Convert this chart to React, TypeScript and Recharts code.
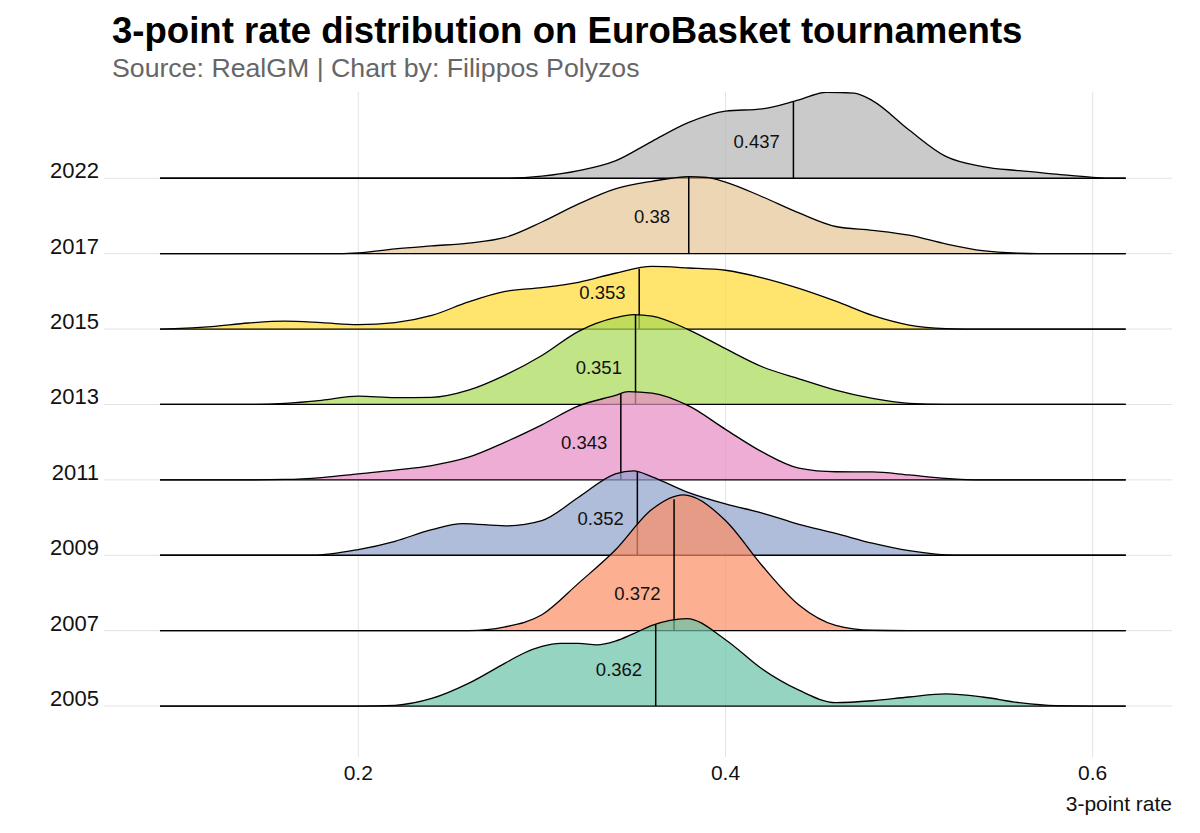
import { ComposedChart, Area, Line, Scatter, XAxis, YAxis, CartesianGrid } from "recharts";

const FONT = "'Liberation Sans', Arial, sans-serif";

const years = ["2005", "2007", "2009", "2011", "2013", "2015", "2017", "2022"];
const colors = ["#66C2A5", "#FC8D62", "#8DA0CB", "#E78AC3", "#A6D854", "#FFD92F", "#E5C494", "#B3B3B3"];
const medians = [0.362, 0.372, 0.352, 0.343, 0.351, 0.353, 0.38, 0.437];
const xTicks = [0.2, 0.4, 0.6];
const yTicks = years.map((_, i) => i);

// [3-point rate, density height in ridge spacings]
const dens2005: [number, number][] = [
  [0.092, 0], [0.2, 0], [0.22, 0.01], [0.24, 0.1], [0.26, 0.3], [0.28, 0.57], [0.29, 0.7], [0.3, 0.79],
  [0.31, 0.83], [0.32, 0.83], [0.33, 0.81], [0.34, 0.86], [0.35, 0.96], [0.36, 1.07], [0.379, 1.16],
  [0.4, 0.88], [0.42, 0.49], [0.44, 0.21], [0.46, 0.045], [0.48, 0.07], [0.5, 0.12], [0.52, 0.16],
  [0.54, 0.12], [0.56, 0.045], [0.58, 0.005], [0.6, 0], [0.618, 0],
];
const dens2007: [number, number][] = [
  [0.092, 0], [0.26, 0], [0.28, 0.05], [0.3, 0.21], [0.32, 0.63], [0.34, 1.07], [0.36, 1.61], [0.377, 1.8],
  [0.38, 1.79], [0.4, 1.46], [0.42, 0.86], [0.44, 0.34], [0.46, 0.07], [0.48, 0.005], [0.5, 0], [0.618, 0],
];
const dens2009: [number, number][] = [
  [0.092, 0], [0.175, 0], [0.2, 0.075], [0.22, 0.185], [0.24, 0.34], [0.257, 0.42], [0.28, 0.39], [0.3, 0.46],
  [0.32, 0.77], [0.34, 1.08], [0.35, 1.12], [0.36, 1.04], [0.38, 0.83], [0.4, 0.68], [0.42, 0.56], [0.44, 0.41],
  [0.46, 0.29], [0.48, 0.16], [0.5, 0.06], [0.52, 0.005], [0.53, 0], [0.618, 0],
];
const dens2011: [number, number][] = [
  [0.092, 0], [0.14, 0], [0.16, 0.005], [0.18, 0.03], [0.2, 0.08], [0.22, 0.13], [0.24, 0.19], [0.26, 0.3],
  [0.28, 0.5], [0.3, 0.73], [0.32, 0.98], [0.34, 1.12], [0.347, 1.17], [0.36, 1.15], [0.38, 0.98], [0.4, 0.67],
  [0.42, 0.37], [0.44, 0.155], [0.46, 0.107], [0.48, 0.105], [0.5, 0.065], [0.52, 0.02], [0.54, 0], [0.618, 0],
];
const dens2013: [number, number][] = [
  [0.092, 0], [0.14, 0], [0.16, 0.015], [0.18, 0.055], [0.2, 0.11], [0.22, 0.09], [0.24, 0.095], [0.26, 0.19],
  [0.28, 0.39], [0.3, 0.65], [0.32, 0.97], [0.34, 1.15], [0.35, 1.19], [0.36, 1.17], [0.38, 0.99], [0.4, 0.74],
  [0.42, 0.5], [0.44, 0.34], [0.46, 0.19], [0.48, 0.08], [0.5, 0.015], [0.52, 0], [0.618, 0],
];
const dens2015: [number, number][] = [
  [0.092, 0], [0.1, 0.005], [0.12, 0.033], [0.14, 0.08], [0.16, 0.105], [0.18, 0.085], [0.2, 0.058], [0.22, 0.085],
  [0.24, 0.18], [0.26, 0.36], [0.28, 0.5], [0.3, 0.55], [0.32, 0.62], [0.34, 0.74], [0.36, 0.83], [0.38, 0.81],
  [0.4, 0.78], [0.42, 0.68], [0.44, 0.54], [0.46, 0.37], [0.48, 0.18], [0.5, 0.053], [0.52, 0.005], [0.53, 0], [0.618, 0],
];
const dens2017: [number, number][] = [
  [0.092, 0], [0.19, 0], [0.2, 0.01], [0.22, 0.063], [0.24, 0.103], [0.26, 0.14], [0.28, 0.215], [0.3, 0.42],
  [0.32, 0.66], [0.34, 0.86], [0.36, 0.96], [0.38, 1.02], [0.39, 1.01], [0.4, 0.95], [0.42, 0.755], [0.44, 0.54],
  [0.46, 0.36], [0.48, 0.31], [0.5, 0.245], [0.52, 0.13], [0.54, 0.04], [0.56, 0.005], [0.57, 0], [0.618, 0],
];
const dens2022: [number, number][] = [
  [0.092, 0], [0.28, 0], [0.3, 0.027], [0.32, 0.1], [0.34, 0.23], [0.36, 0.49], [0.38, 0.74], [0.4, 0.89],
  [0.42, 0.92], [0.44, 1.04], [0.455, 1.14], [0.47, 1.13], [0.48, 1.03], [0.5, 0.64], [0.52, 0.29], [0.54, 0.155],
  [0.56, 0.1], [0.58, 0.055], [0.6, 0.012], [0.61, 0], [0.618, 0],
];
const densities = [dens2005, dens2007, dens2009, dens2011, dens2013, dens2015, dens2017, dens2022];

const heightAt = (pts: [number, number][], x: number) => {
  for (let k = 0; k < pts.length - 1; k++) {
    const [x0, h0] = pts[k];
    const [x1, h1] = pts[k + 1];
    if (x >= x0 && x <= x1) return h0 + ((x - x0) / (x1 - x0)) * (h1 - h0);
  }
  return 0;
};

const ridges = densities
  .map((pts, i) => ({
    year: years[i],
    color: colors[i],
    area: pts.map(([x, h]) => ({ x, band: [i, i + h] })),
    median: [
      { x: medians[i], v: i },
      { x: medians[i], v: i + heightAt(pts, medians[i]) },
    ],
    label: [{ x: medians[i] - 0.02, v: i + 0.49, text: String(medians[i]) }],
  }))
  .reverse();

const YearTick = (p: any) => (
  <text x={p.x} y={p.y} textAnchor="end" fontSize={22} fill="#111" fontFamily={FONT}>
    {years[p.payload.value]}
  </text>
);

const RateTick = (p: any) => (
  <text x={p.x} y={p.y} textAnchor="middle" fontSize={21} fill="#111" fontFamily={FONT}>
    {p.payload.value}
  </text>
);

const MedianLabel = (p: any) => (
  <text x={p.cx} y={p.cy} textAnchor="middle" dominantBaseline="central" fontSize={18.5} fill="#111" fontFamily={FONT}>
    {p.payload.text}
  </text>
);

export default function App() {
  return (
    <div style={{ position: "absolute", left: 0, top: 0, width: 1200, height: 833, background: "#fff" }}>
      <ComposedChart width={1200} height={833} margin={{ top: 92, right: 28, bottom: 0, left: 0 }}>
        <CartesianGrid stroke="#e3e3e3" syncWithTicks horizontalValues={yTicks} verticalValues={xTicks} />
        <XAxis
          dataKey="x"
          type="number"
          domain={[0.0615, 0.6432]}
          allowDataOverflow
          ticks={xTicks}
          interval={0}
          height={76}
          tickSize={0}
          tickMargin={23}
          axisLine={false}
          tickLine={false}
          tick={<RateTick />}
        />
        <YAxis
          type="number"
          domain={[-0.676, 8.144]}
          allowDataOverflow
          ticks={yTicks}
          interval={0}
          width={104}
          tickSize={0}
          tickMargin={5}
          axisLine={false}
          tickLine={false}
          tick={<YearTick />}
        />
        {ridges.flatMap((r, k) => [
          <Area
            key={"a" + r.year}
            data={r.area}
            dataKey="band"
            type="monotone"
            fill={r.color}
            fillOpacity={0.7}
            stroke="#000"
            strokeWidth={1.3}
            isAnimationActive={false}
            zIndex={100 + 2 * k}
          />,
          <Line
            key={"m" + r.year}
            data={r.median}
            dataKey="v"
            type="linear"
            stroke="#000"
            strokeWidth={1.5}
            dot={false}
            activeDot={false}
            isAnimationActive={false}
            zIndex={101 + 2 * k}
          />,
        ])}
        {ridges.map((r) => (
          <Scatter
            key={"l" + r.year}
            data={r.label}
            dataKey="v"
            shape={<MedianLabel />}
            isAnimationActive={false}
            zIndex={1000}
          />
        ))}
      </ComposedChart>
      <svg width={1200} height={833} style={{ position: "absolute", left: 0, top: 0, pointerEvents: "none" }}>
        <text x={112} y={43} fontSize={36.6} fontWeight="bold" fill="#000" fontFamily={FONT}>
          3-point rate distribution on EuroBasket tournaments
        </text>
        <text x={112} y={77} fontSize={26.7} fill="#666" fontFamily={FONT}>
          Source: RealGM | Chart by: Filippos Polyzos
        </text>
        <text x={1172} y={811} fontSize={21} textAnchor="end" fill="#111" fontFamily={FONT}>
          3-point rate
        </text>
      </svg>
    </div>
  );
}
